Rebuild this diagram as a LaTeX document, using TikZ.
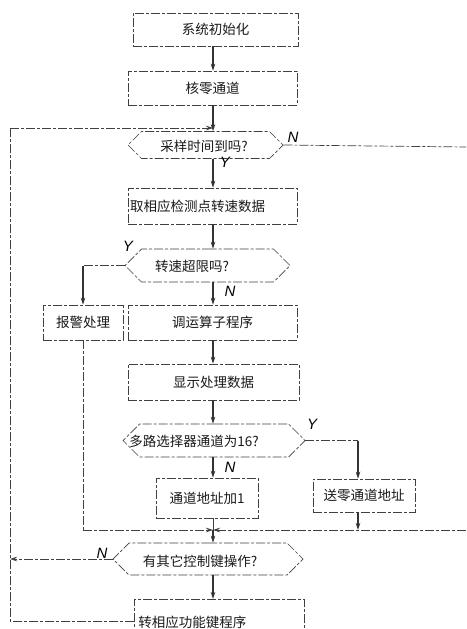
\documentclass[tikz,border=0pt]{standalone}
\usepackage{fontspec}
\newfontfamily\cjk{Noto Sans CJK SC}
\setsansfont{Liberation Sans}
\usetikzlibrary{shapes.symbols,arrows.meta}
\begin{document}
\begin{tikzpicture}[x=1pt,y=-1pt,
  ln/.style={draw=black!75, line width=0.7pt},
  dsh/.style={ln, dash pattern=on 9pt off 2pt on 3pt off 2pt},
  arr/.style={draw=black!80, line width=1.1pt, -{Stealth[length=7pt,width=4.5pt]}},
  darr/.style={dsh, -{Stealth[length=7pt,width=4.5pt]}},
  box/.style={rectangle, dsh, font=\cjk\fontsize{13.5}{14}\selectfont, text=black!90, inner sep=1pt},
  dec/.style={signal, signal to=west and east, signal pointer angle=90, dsh, inner sep=1pt},
  txt/.style={font=\cjk\fontsize{13.5}{14}\selectfont, text=black!90, inner sep=1pt},
  lab/.style={font=\sffamily\itshape\fontsize{15}{15}\selectfont, text=black, inner sep=0pt}
]
\useasboundingbox (0,0) rectangle (466,629);
\clip (0,0) rectangle (466,629);
\coordinate (cx) at (213,0);
\coordinate (cy) at (358,0);
\coordinate (lx) at (10,0);
\coordinate (j0) at (213,128);
\coordinate (j1) at (213,530);
\coordinate (rN) at (466,147);
\coordinate (rJ) at (466,530);
% boxes
\node[box, minimum width=165pt, minimum height=33pt] (b1) at (215.5,29.5) {系统初始化};
\node[box, minimum width=169pt, minimum height=34pt] (b2) at (212.5,88) {核零通道};
\node[dec, minimum width=155pt, minimum height=27pt] (d3) at (205.5,145) {};
\node[txt] (t3) at (204,146) {采样时间到吗?};
\node[box, minimum width=169pt, minimum height=36pt, text width=165pt, align=left] (b4) at (212.5,206) {取相应检测点转速数据};
\node[dec, minimum width=165pt, minimum height=33pt] (d5) at (207.5,265.5) {};
\node[txt] (t5) at (192,266) {转速超限吗?};
\node[box, minimum width=80pt, minimum height=35pt] (b6) at (83,322.5) {报警处理};
\node[box, minimum width=169pt, minimum height=35pt] (b7) at (212.5,322.5) {调运算子程序};
\node[box, minimum width=171pt, minimum height=36pt] (b8) at (213.5,382) {显示处理数据};
\node[dec, minimum width=182pt, minimum height=33pt] (d9) at (214,440.5) {};
\node[txt] (t9) at (194,441) {多路选择器通道为16?};
\node[box, minimum width=102pt, minimum height=40pt] (b10) at (207,498) {通道地址加1};
\node[box, minimum width=102pt, minimum height=33pt] (b11) at (364,495.5) {送零通道地址};
\node[dec, minimum width=190pt, minimum height=32pt] (d12) at (208,559) {};
\node[txt] (t12) at (200,561) {有其它控制键操作?};
\node[box, minimum width=170pt, minimum height=46pt, text width=162pt, align=left, anchor=north west] (b13) at (134,599) {\raisebox{-6pt}{转相应功能键程序}};
% labels
\node[lab] (y3) at (225,162) {Y};
\node[lab] (n3) at (293,137) {N};
\node[lab] (y5) at (128,246) {Y};
\node[lab] (n5) at (230,291) {N};
\node[lab] (y9) at (312,424) {Y};
\node[lab] (n9) at (230,467) {N};
\node[lab] (n12) at (102,553) {N};
% connectors
\draw[arr] (b1.south -| cx) -- (b2.north -| cx);
\draw[arr] (b2.south -| cx) -- (d3.north -| cx);
\draw[arr] (d3.south -| cx) -- (b4.north -| cx);
\draw[dsh] (d3.east) -- (rN);
\draw[arr] (b4.south -| cx) -- (d5.north -| cx);
\draw[dsh] (d5.west) -- (d5.west -| b6.north);
\draw[arr] (d5.west -| b6.north) -- (b6.north);
\draw[arr] (d5.south -| cx) -- (b7.north -| cx);
\draw[arr] (b7.south -| cx) -- (b8.north -| cx);
\draw[arr] (b8.south -| cx) -- (d9.north -| cx);
\draw[arr] (d9.south -| cx) -- (b10.north -| cx);
\draw[dsh] (d9.east) -- (d9.east -| cy);
\draw[arr] (d9.east -| cy) -- (b11.north -| cy);
\draw[dsh] (b6.south) -- (b6.south |- j1);
\draw[darr] (b6.south |- j1) -- (j1);
\draw[darr] (rJ) -- (j1);
\draw[arr] (b11.south -| cy) -- (cy |- j1);
\draw[ln] (b10.south -| cx) -- (j1);
\draw[arr] (j1) -- (d12.north -| cx);
\draw[darr] (d12.west) -- (d12.west -| lx);
\draw[arr] (d12.south -| cx) -- (b13.north -| cx);
\draw[dsh] (b13.west |- 0,621) -- (lx |- 0,621) -- (lx |- j0);
\draw[darr] (lx |- j0) -- (j0);
\end{tikzpicture}
\end{document}
